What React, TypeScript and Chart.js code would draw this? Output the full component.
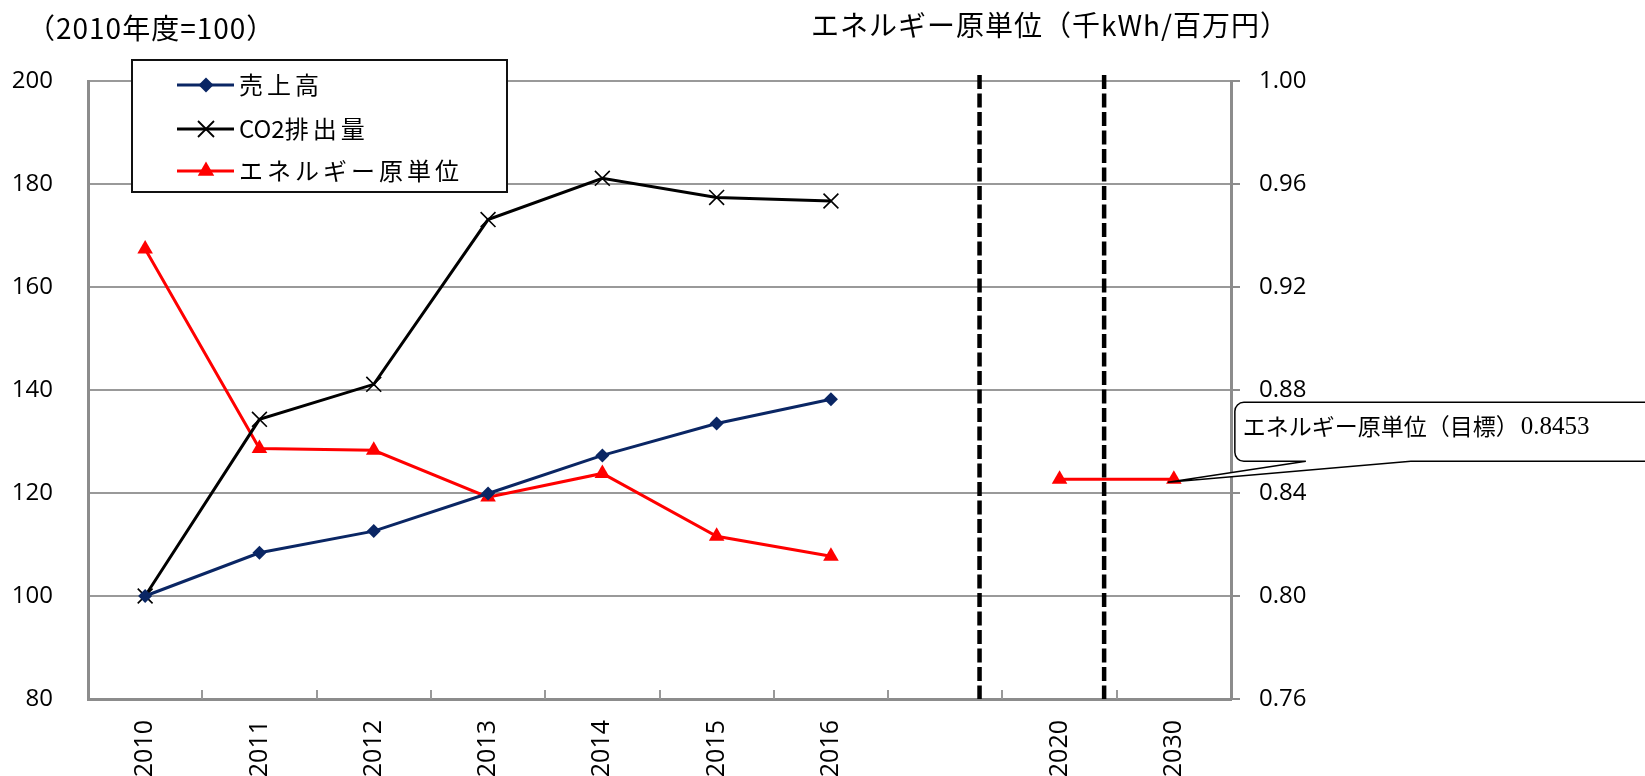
import React, { useEffect, useRef } from 'react';
import { Chart, registerables } from 'chart.js';

Chart.register(...registerables);

// ---- data ----
const years = ['2010', '2011', '2012', '2013', '2014', '2015', '2016', '', '2020', '2030'];
const salesIndex = [100, 108.4, 112.6, 119.9, 127.3, 133.5, 138.2, null, null, null];
const co2Index = [100, 134.3, 141.1, 173.1, 181.1, 177.4, 176.7, null, null, null];
const energyIntensity = [0.9348, 0.8573, 0.8566, 0.8384, 0.8476, 0.8232, 0.8154, null, 0.8453, 0.8453];
const targetValue = '0.8453';
const leftTicks = [80, 100, 120, 140, 160, 180, 200];
const rightTicks = [0.76, 0.8, 0.84, 0.88, 0.92, 0.96, 1.0];
const dividerPositions = [7.3, 8.39];
const seriesNames = ['売上高', 'CO2排出量', 'エネルギー原単位'];
const leftAxisTitle = '（2010年度=100）';
const rightAxisTitle = 'エネルギー原単位（千kWh/百万円）';
const calloutLabel = 'エネルギー原単位（目標）';

const NAVY = '#0a2664';
const BLACK = '#000000';
const RED = '#ff0000';
const GRID = '#999999';
const AXIS = '#8c8c8c';
const SANS = '"Open Sans", "Noto Sans", sans-serif';
const CJK = '"Noto Sans CJK JP", "Noto Sans", sans-serif';

function drawMarker(ctx: CanvasRenderingContext2D, kind: string, x: number, y: number, color: string) {
  ctx.save();
  ctx.fillStyle = color;
  ctx.strokeStyle = color;
  if (kind === 'diamond') {
    const r = 7.5;
    ctx.beginPath();
    ctx.moveTo(x, y - r);
    ctx.lineTo(x + r, y);
    ctx.lineTo(x, y + r);
    ctx.lineTo(x - r, y);
    ctx.closePath();
    ctx.fill();
  } else if (kind === 'cross') {
    const r = 8;
    ctx.lineWidth = 1.8;
    ctx.beginPath();
    ctx.moveTo(x - r, y - r);
    ctx.lineTo(x + r, y + r);
    ctx.moveTo(x + r, y - r);
    ctx.lineTo(x - r, y + r);
    ctx.stroke();
  } else {
    const r = 9.5;
    ctx.beginPath();
    ctx.moveTo(x, y - r);
    ctx.lineTo(x + r * 0.866, y + r / 2);
    ctx.lineTo(x - r * 0.866, y + r / 2);
    ctx.closePath();
    ctx.fill();
  }
  ctx.restore();
}

function setSpacing(ctx: CanvasRenderingContext2D, px: number) {
  (ctx as any).letterSpacing = `${px}px`;
}

// draws text where ASCII runs are unspaced and CJK runs get extra letter spacing
function fillMixed(ctx: CanvasRenderingContext2D, text: string, x: number, y: number, cjkSpacing: number) {
  const runs = text.match(/[\x00-\x7f]+|[^\x00-\x7f]+/g) || [];
  let cx = x;
  for (const run of runs) {
    const ascii = /^[\x00-\x7f]+$/.test(run);
    setSpacing(ctx, ascii ? 0 : cjkSpacing);
    ctx.fillText(run, cx, y);
    cx += ctx.measureText(run).width;
  }
  setSpacing(ctx, 0);
}

const decorPlugin = {
  id: 'decor',
  beforeDatasetsDraw(chart: any) {
    const ctx: CanvasRenderingContext2D = chart.ctx;
    const xs = chart.scales.x;
    const area = chart.chartArea;
    ctx.save();
    ctx.strokeStyle = GRID;
    ctx.lineWidth = 2;
    for (let k = 0; k < years.length - 1; k++) {
      const px = Math.round(xs.getPixelForValue(k + 0.5));
      ctx.beginPath();
      ctx.moveTo(px, area.bottom);
      ctx.lineTo(px, area.bottom - 9);
      ctx.stroke();
    }
    ctx.restore();
  },
  afterDatasetsDraw(chart: any) {
    const ctx: CanvasRenderingContext2D = chart.ctx;
    const xs = chart.scales.x;
    const y2 = chart.scales.y2;
    const area = chart.chartArea;
    ctx.save();
    // dashed dividers
    ctx.strokeStyle = '#000';
    ctx.lineWidth = 4.5;
    ctx.setLineDash([14, 4.5]);
    for (const d of dividerPositions) {
      const px = xs.getPixelForValue(d);
      ctx.beginPath();
      ctx.moveTo(px, area.top - 6);
      ctx.lineTo(px, area.bottom);
      ctx.stroke();
    }
    ctx.setLineDash([]);

    // callout anchored to the last target point
    const last = energyIntensity.length - 1;
    const tx = xs.getPixelForValue(last);
    const ty = y2.getPixelForValue(energyIntensity[last] as number);
    const left = tx + 61;
    const top = ty - 77;
    const bottom = ty - 18;
    const right = chart.width + 20;
    const r = 9;
    const baseL = tx + 132;
    const baseR = tx + 237;
    const tipX = tx - 6;
    const tipY = ty + 3;
    ctx.beginPath();
    ctx.moveTo(left + r, top);
    ctx.lineTo(right, top);
    ctx.lineTo(right, bottom);
    ctx.lineTo(baseR, bottom);
    ctx.lineTo(tipX, tipY);
    ctx.lineTo(baseL, bottom);
    ctx.lineTo(left + r, bottom);
    ctx.arcTo(left, bottom, left, bottom - r, r);
    ctx.lineTo(left, top + r);
    ctx.arcTo(left, top, left + r, top, r);
    ctx.closePath();
    ctx.fillStyle = '#fff';
    ctx.fill();
    ctx.strokeStyle = '#000';
    ctx.lineWidth = 1.5;
    ctx.stroke();
    ctx.fillStyle = '#000';
    ctx.textBaseline = 'middle';
    ctx.textAlign = 'left';
    ctx.font = `23px ${CJK}`;
    const ly = top + 24;
    ctx.fillText(calloutLabel, left + 8, ly);
    const w = ctx.measureText(calloutLabel).width;
    ctx.font = '25px "Liberation Serif", "Times New Roman", serif';
    ctx.fillText(targetValue, left + 8 + w + 2, ly + 1);
    ctx.restore();
  },
  afterDraw(chart: any) {
    const ctx: CanvasRenderingContext2D = chart.ctx;
    ctx.save();
    // axis titles
    ctx.fillStyle = '#000';
    ctx.textBaseline = 'middle';
    ctx.textAlign = 'left';
    ctx.font = `28px ${CJK}`;
    setSpacing(ctx, 1);
    ctx.fillText(leftAxisTitle, 27, 28);
    ctx.fillText(rightAxisTitle, 811, 25);
    setSpacing(ctx, 0);

    // legend
    const bx = 132, by = 60, bw = 375, bh = 132;
    ctx.fillStyle = '#fff';
    ctx.fillRect(bx, by, bw, bh);
    ctx.strokeStyle = '#111';
    ctx.lineWidth = 2;
    ctx.strokeRect(bx, by, bw, bh);
    const rows = [85, 129, 171];
    const colors = [NAVY, BLACK, RED];
    const kinds = ['diamond', 'cross', 'triangle'];
    ctx.font = `24px ${CJK}`;
    for (let i = 0; i < 3; i++) {
      ctx.strokeStyle = colors[i];
      ctx.lineWidth = 3;
      ctx.beginPath();
      ctx.moveTo(177, rows[i]);
      ctx.lineTo(234, rows[i]);
      ctx.stroke();
      drawMarker(ctx, kinds[i], 206, rows[i], colors[i]);
      ctx.fillStyle = '#000';
      fillMixed(ctx, seriesNames[i], 239, rows[i], 4);
    }
    ctx.restore();
  },
};

export default function App() {
  const ref = useRef<HTMLCanvasElement | null>(null);
  useEffect(() => {
    if (!ref.current) return;
    const chart = new Chart(ref.current, {
      type: 'line',
      data: {
        labels: years,
        datasets: [
          {
            label: seriesNames[0],
            data: salesIndex,
            yAxisID: 'y',
            borderColor: NAVY,
            backgroundColor: NAVY,
            borderWidth: 3,
            pointStyle: 'rectRot',
            pointRadius: 7,
            pointBorderWidth: 0,
            tension: 0,
          },
          {
            label: seriesNames[1],
            data: co2Index,
            yAxisID: 'y',
            borderColor: BLACK,
            backgroundColor: BLACK,
            borderWidth: 3,
            pointStyle: 'crossRot',
            pointRadius: 10.5,
            pointBorderWidth: 1.6,
            tension: 0,
          },
          {
            label: seriesNames[2],
            data: energyIntensity,
            yAxisID: 'y2',
            borderColor: RED,
            backgroundColor: RED,
            borderWidth: 3,
            pointStyle: 'triangle',
            pointRadius: 9,
            pointBorderWidth: 0,
            spanGaps: false,
            tension: 0,
          },
        ],
      },
      options: {
        responsive: false,
        devicePixelRatio: 1,
        animation: false,
        layout: { padding: { top: 81, left: 0, right: 0, bottom: 0 } },
        plugins: { legend: { display: false }, tooltip: { enabled: false }, title: { display: false } },
        scales: {
          x: {
            type: 'category',
            offset: true,
            grid: { display: false, drawTicks: false },
            border: { display: true, color: AXIS, width: 3 },
            ticks: {
              autoSkip: false,
              minRotation: 90,
              maxRotation: 90,
              padding: 21,
              color: '#000',
              font: { family: SANS, size: 25 },
            },
            afterFit: (s: any) => { s.height = 77; },
          },
          y: {
            position: 'left',
            min: 80,
            max: 200,
            grid: { color: GRID, lineWidth: 2, drawTicks: false },
            border: { display: true, color: AXIS, width: 3 },
            ticks: {
              padding: 35,
              color: '#000',
              font: { family: SANS, size: 24 },
            },
            afterBuildTicks: (s: any) => { s.ticks = leftTicks.map((v) => ({ value: v })); },
            afterFit: (s: any) => { s.width = 88; },
          },
          y2: {
            position: 'right',
            min: 0.76,
            max: 1.0,
            grid: { drawOnChartArea: false, color: AXIS, lineWidth: 2, drawTicks: true, tickLength: 9 },
            border: { display: true, color: AXIS, width: 3 },
            ticks: {
              padding: 19,
              color: '#000',
              font: { family: SANS, size: 24 },
              callback: (v: any) => Number(v).toFixed(2),
            },
            afterBuildTicks: (s: any) => { s.ticks = rightTicks.map((v) => ({ value: v })); },
            afterFit: (s: any) => { s.width = 414; },
          },
        },
      },
      plugins: [decorPlugin],
    } as any);
    return () => chart.destroy();
  }, []);
  return (
    <div style={{ position: 'fixed', left: 0, top: 0, width: 1645, height: 776, background: '#fff' }}>
      <canvas ref={ref} width={1645} height={776} style={{ display: 'block', width: 1645, height: 776 }} />
    </div>
  );
}
